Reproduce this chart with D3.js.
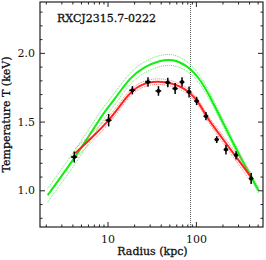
<!DOCTYPE html>
<html>
<head>
<meta charset="utf-8">
<script src="https://cdn.jsdelivr.net/npm/d3@7"></script>
<style>
  body { margin: 0; background: #fff; }
  text { font-family: "DejaVu Serif", serif; fill: #111; }
</style>
</head>
<body>
<div id="chart"></div>
<script>
/////////////////////////////////////////////////////////
// data
/////////////////////////////////////////////////////////
var title = "RXCJ2315.7-0222"

// axis ranges
var xRange = [1.72, 575]
var yRange = [0.733, 2.37]
var xMajor = [10, 100]
var xMinor = [2, 3, 4, 5, 6, 7, 8, 9, 20, 30, 40, 50, 60, 70, 80, 90, 200, 300, 400, 500]
var yMajor = [1.0, 1.5, 2.0]
var yMinor = [0.8, 0.9, 1.1, 1.2, 1.3, 1.4, 1.6, 1.7, 1.8, 1.9, 2.1, 2.2, 2.3]
var rMark = 87

// measured profile
var radius = [4.2, 10.3, 19.1, 28.7, 37.7, 48.1, 58.2, 69.7, 83.7, 102, 130, 172, 219, 285, 422]
var temp   = [1.242, 1.51, 1.728, 1.788, 1.723, 1.784, 1.74, 1.788, 1.715, 1.65, 1.539, 1.369, 1.296, 1.255, 1.085]
var tErr   = [0.04, 0.045, 0.03, 0.035, 0.035, 0.035, 0.04, 0.035, 0.04, 0.03, 0.03, 0.025, 0.035, 0.03, 0.04]
var rErr   = [0.35, 0.8, 1.5, 2.2, 2.8, 3.5, 4, 4.5, 5.5, 6.5, 8, 10, 13, 16, 25]

// green model
var greenR   = [2.10, 4.22, 6.25, 9.25, 12.0, 17.8, 26.3, 39.0, 54.8, 79, 111, 152, 204, 290, 430, 511]
var greenT   = [0.964, 1.233, 1.400, 1.575, 1.660, 1.820, 1.900, 1.945, 1.955, 1.910, 1.815, 1.655, 1.488, 1.291, 1.087, 1.0]
var greenErr = [0.05, 0.05, 0.05, 0.045, 0.045, 0.04, 0.04, 0.04, 0.04, 0.035, 0.03, 0.025, 0.025, 0.02, 0.02, 0.02]

// red model
var redR   = [4.30, 7.11, 11.1, 14.4, 19.1, 28.5, 44.5, 75, 105, 132, 172, 223, 290, 430]
var redT   = [1.269, 1.40, 1.531, 1.630, 1.735, 1.790, 1.795, 1.748, 1.655, 1.533, 1.434, 1.335, 1.237, 1.087]
var redErr = [0.035, 0.03, 0.025, 0.025, 0.02, 0.02, 0.02, 0.02, 0.02, 0.02, 0.025, 0.025, 0.03, 0.035]

/////////////////////////////////////////////////////////
//
/////////////////////////////////////////////////////////
var width = 266, height = 260
var margin = {top: 2, right: 3, bottom: 33, left: 40}
var w = width - margin.left - margin.right
var h = height - margin.top - margin.bottom

var svg = d3.select("#chart").append("svg")
    .attr("width", width)
    .attr("height", height)

var x = d3.scaleLog().domain(xRange).range([margin.left, margin.left + w])
var y = d3.scaleLinear().domain(yRange).range([margin.top + h, margin.top])

svg.append("clipPath").attr("id", "clip")
  .append("rect")
    .attr("x", margin.left).attr("y", margin.top)
    .attr("width", w).attr("height", h)

var plot = svg.append("g").attr("clip-path", "url(#clip)")

// vertical marker
plot.append("line")
    .attr("x1", x(rMark)).attr("x2", x(rMark))
    .attr("y1", margin.top).attr("y2", margin.top + h)
    .attr("stroke", "#555")
    .attr("stroke-width", 1)
    .attr("stroke-dasharray", "1,1")

var line = d3.line()
    .x(function(d) { return x(d[0]) })
    .y(function(d) { return y(d[1]) })
    .curve(d3.curveBasis)

function drawModel (rs, ts, es, solid, dotted) {
  var mid = rs.map(function(r, i) { return [r, ts[i]] })
  var up = rs.map(function(r, i) { return [r, ts[i] + es[i]] })
  var lo = rs.map(function(r, i) { return [r, ts[i] - es[i]] })
  ;[up, lo].forEach(function(pts) {
    plot.append("path")
        .attr("d", line(pts))
        .attr("fill", "none")
        .attr("stroke", dotted)
        .attr("stroke-width", 1)
        .attr("stroke-dasharray", "1,1")
  })
  plot.append("path")
      .attr("d", line(mid))
      .attr("fill", "none")
      .attr("stroke", solid)
      .attr("stroke-width", 2)
}

drawModel(greenR, greenT, greenErr, "#11ee11", "#55ee55")
drawModel(redR, redT, redErr, "#ff2222", "#ff7777")

// data points
var pts = radius.map(function(r, i) {
  return {r: r, t: temp[i], dt: tErr[i], dr: rErr[i]}
})

var g = plot.selectAll(".pt").data(pts).enter().append("g").attr("class", "pt")
g.append("line")
    .attr("x1", function(d) { return x(d.r) }).attr("x2", function(d) { return x(d.r) })
    .attr("y1", function(d) { return y(d.t - d.dt) }).attr("y2", function(d) { return y(d.t + d.dt) })
    .attr("stroke", "#000").attr("stroke-width", 1.5)
g.append("line")
    .attr("x1", function(d) { return x(d.r - d.dr) }).attr("x2", function(d) { return x(d.r + d.dr) })
    .attr("y1", function(d) { return y(d.t) }).attr("y2", function(d) { return y(d.t) })
    .attr("stroke", "#000").attr("stroke-width", 1.5)
g.append("circle")
    .attr("cx", function(d) { return x(d.r) })
    .attr("cy", function(d) { return y(d.t) })
    .attr("r", 2)
    .attr("fill", "#000")

/////////////////////////////////////////////////////////
// axes, ticks pointing inward
/////////////////////////////////////////////////////////
function axis (gen, pos, vals, size, labels, fmt) {
  var a = svg.append("g")
      .attr("transform", pos)
      .call(gen.tickValues(vals).tickSize(-size).tickSizeOuter(0)
        .tickPadding(labels ? 5 : 0)
        .tickFormat(labels ? fmt : ""))
  a.select(".domain").remove()
  a.selectAll("line").attr("stroke", "#222")
  a.selectAll("text")
      .style("font-size", "11px")
      .style("font-family", "'DejaVu Serif', serif")
      .attr("fill", "#111")
  return a
}

var fx = d3.format("d"), fy = d3.format(".1f")
var bottom = "translate(0," + (margin.top + h) + ")"
var topT = "translate(0," + margin.top + ")"
var left = "translate(" + margin.left + ",0)"
var right = "translate(" + (margin.left + w) + ",0)"

axis(d3.axisBottom(x), bottom, xMinor, 2.5, false)
axis(d3.axisBottom(x), bottom, xMajor, 5, true, fx).selectAll("text").attr("y", 8)
axis(d3.axisTop(x), topT, xMinor, 2.5, false)
axis(d3.axisTop(x), topT, xMajor, 5, false)
axis(d3.axisLeft(y), left, yMinor, 2.5, false)
axis(d3.axisLeft(y), left, yMajor, 5, true, fy)
axis(d3.axisRight(y), right, yMinor, 2.5, false)
axis(d3.axisRight(y), right, yMajor, 5, false)

// frame
svg.append("rect")
    .attr("x", margin.left).attr("y", margin.top)
    .attr("width", w).attr("height", h)
    .attr("fill", "none")
    .attr("stroke", "#222")
    .attr("stroke-width", 1.2)

// labels
svg.append("text")
    .attr("x", 57).attr("y", 22)
    .style("font-size", "11px")
    .style("stroke", "#111").style("stroke-width", 0.3)
    .text(title)

svg.append("text")
    .attr("x", margin.left + w / 2 + 1)
    .attr("y", 255)
    .attr("text-anchor", "middle")
    .style("font-size", "11px")
    .style("stroke", "#111").style("stroke-width", 0.3)
    .text("Radius (kpc)")

svg.append("text")
    .attr("transform", "translate(10," + (margin.top + h / 2) + ") rotate(-90)")
    .attr("text-anchor", "middle")
    .style("font-size", "11px")
    .style("stroke", "#111").style("stroke-width", 0.3)
    .text("Temperature T (keV)")
</script>
</body>
</html>
